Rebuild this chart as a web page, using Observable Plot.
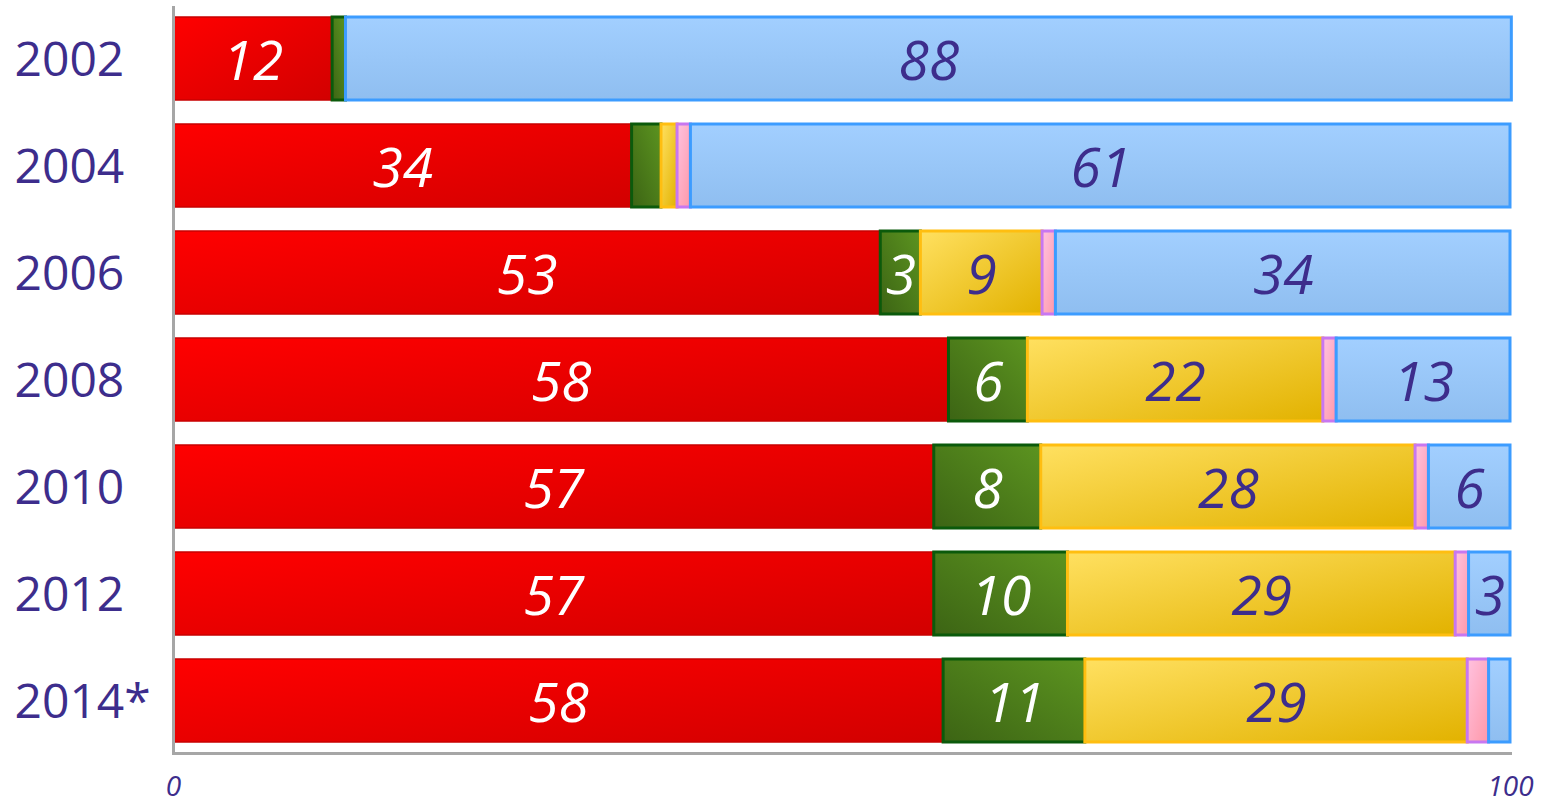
<!DOCTYPE html>
<html><head><meta charset="utf-8">
<script src="https://cdn.jsdelivr.net/npm/d3@7"></script>
<script src="https://cdn.jsdelivr.net/npm/@observablehq/plot@0.6"></script>
<style>body{margin:0;background:#fff;} svg{display:block}</style>
</head><body><div id="chart"></div>
<script>
const years = ["2002","2004","2006","2008","2010","2012","2014*"];
const series = ["red","green","yellow","pink","blue"];
const redValues    = [11.9, 34.3, 52.9, 58.0, 56.9, 56.9, 57.6];
const greenValues  = [1.0,  2.2,  3.0,  5.9,  8.0, 10.0, 10.6];
const yellowValues = [0,    1.2,  9.1, 22.1, 28.0, 29.0, 28.6];
const pinkValues   = [0,    1.0,  1.0,  1.0,  1.0,  1.0,  1.6];
const blueValues   = [87.2, 61.3, 34.0, 13.0,  6.1,  3.1,  1.6];
const redLabels    = ["12","34","53","58","57","57","58"];
const greenLabels  = ["","","3","6","8","10","11"];
const yellowLabels = ["","","9","22","28","29","29"];
const pinkLabels   = ["","","","","","",""];
const blueLabels   = ["88","61","34","13","6","3",""];
const xTicks = [0, 100];

const valuesBySeries = {red: redValues, green: greenValues, yellow: yellowValues, pink: pinkValues, blue: blueValues};
const labelsBySeries = {red: redLabels, green: greenLabels, yellow: yellowLabels, pink: pinkLabels, blue: blueLabels};

const styles = {
  red:    {stroke: "#c80000", width: 1.5, text: "#ffffff", stops: [["0%","#ff0000"],["100%","#d20000"]], dir: [0,0,1,1]},
  green:  {stroke: "#0b5a0b", width: 3,   text: "#ffffff", stops: [["0%","#3c6414"],["100%","#5c9420"]], dir: [0,1,1,0]},
  yellow: {stroke: "#ffbe10", width: 3,   text: "#3d2d8c", stops: [["0%","#ffe060"],["100%","#e2b200"]], dir: [0,0,1,1]},
  pink:   {stroke: "#c877f0", width: 3,   text: "#3d2d8c", stops: [["0%","#ffc2e0"],["100%","#ff98a8"]], dir: [0,0,1,1]},
  blue:   {stroke: "#3c9cff", width: 3,   text: "#3d2d8c", stops: [["0%","#a2cfff"],["100%","#8fbef0"]], dir: [0,0,0,1]}
};

// long table with stacked extents
const table = [];
years.forEach((year, i) => {
  let acc = 0;
  series.forEach(s => {
    const v = valuesBySeries[s][i];
    table.push({year, series: s, value: v, label: labelsBySeries[s][i], x1: acc, x2: acc + v});
    acc += v;
  });
});

const barMarks = series.map(s => Plot.barX(table.filter(d => d.series === s && d.value > 0), {
  x1: "x1", x2: "x2", y: "year",
  fill: `url(#grad-${s})`, stroke: styles[s].stroke, strokeWidth: styles[s].width
}));
const textMarks = series.map(s => Plot.text(table.filter(d => d.series === s && d.label !== ""), {
  x: d => (d.x1 + d.x2) / 2, y: "year", text: "label", dy: 3,
  fill: styles[s].text, fontSize: 55, fontStyle: "italic", fontFamily: "Open Sans"
}));

const chart = Plot.plot({
  width: 1541, height: 801,
  marginLeft: 173, marginRight: 31, marginTop: 6, marginBottom: 48,
  style: {fontFamily: "Open Sans", background: "#fff", overflow: "visible"},
  x: {domain: [0, 100], axis: null},
  y: {domain: years, paddingInner: 0.224, paddingOuter: 0.1, axis: null},
  marks: [
    ...barMarks,
    ...textMarks,
    Plot.ruleX([0], {stroke: "#a6a6a6", strokeWidth: 3}),
    Plot.frame({anchor: "bottom", stroke: "#a6a6a6", strokeWidth: 3}),
    Plot.text(years, {y: d => d, text: d => d, frameAnchor: "left", textAnchor: "start", dx: -159, dy: 2,
      fill: "#3d2d8c", fontSize: 48, fontFamily: "Open Sans"}),
    Plot.text(xTicks, {x: d => d, text: d => String(d), frameAnchor: "bottom", dy: 42,
      fill: "#3d2d8c", fontSize: 28, fontStyle: "italic", fontFamily: "Open Sans"})
  ]
});

const defs = d3.select(chart).insert("defs", ":first-child");
series.forEach(s => {
  const st = styles[s];
  const g = defs.append("linearGradient").attr("id", `grad-${s}`)
    .attr("x1", st.dir[0]).attr("y1", st.dir[1]).attr("x2", st.dir[2]).attr("y2", st.dir[3]);
  st.stops.forEach(([o, c]) => g.append("stop").attr("offset", o).attr("stop-color", c));
});

document.getElementById("chart").appendChild(chart);
</script>
</body></html>
